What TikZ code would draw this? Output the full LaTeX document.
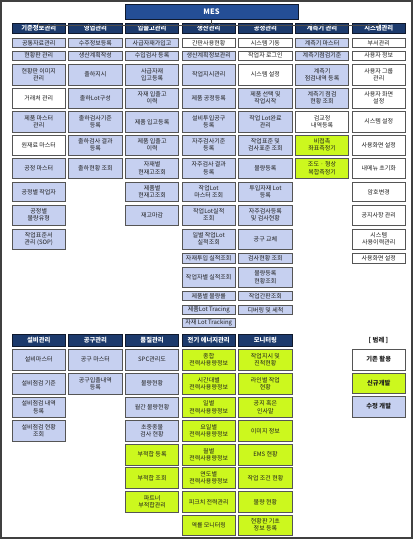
\documentclass[tikz,border=0pt]{standalone}
\usepackage{fontspec}
\newfontfamily\kr{Noto Sans CJK KR}
\definecolor{hdr}{RGB}{28,58,108}
\definecolor{hdrline}{RGB}{15,25,45}
\definecolor{mesfill}{RGB}{36,78,150}
\definecolor{cblue}{RGB}{198,208,240}
\definecolor{cgreen}{RGB}{204,248,30}
\definecolor{cellline}{RGB}{85,85,85}
\definecolor{txt}{RGB}{30,30,30}
\newcommand\mycell[6]{\node[#5, minimum height={(#4-#3)*1pt}] (#1) at ({#2+26.75},{(#3+#4)/2}) {#6};}
\begin{document}
\begin{tikzpicture}[x=1pt,y=-1pt,
 cell/.style={draw=cellline, line width=0.9pt, minimum width=53.5pt, inner sep=0pt, align=center, font=\kr\fontsize{6}{7.2}\selectfont, text=txt},
 bluec/.style={cell, fill=cblue},
 whitec/.style={cell, fill=white},
 greenc/.style={cell, fill=cgreen},
 hdrc/.style={cell, fill=hdr, draw=hdrline, line width=1pt, text=white, font=\kr\bfseries\fontsize{6.3}{7}\selectfont},
 legc/.style={font=\kr\bfseries\fontsize{6.3}{7}\selectfont},
 conn/.style={draw=black!70, line width=0.6pt},
]
\useasboundingbox (0,0) rectangle (413,539);
\draw[line width=1.2pt, draw=black!75] (1,1) rectangle (412,538);

% MES
\node[hdrc, fill=mesfill, minimum width=173pt, minimum height=15pt, font=\kr\bfseries\fontsize{7.5}{8}\selectfont] (mes) at (211.5,11.5) {MES};

% headers top
\mycell{h1}{12}{23}{33.5}{hdrc}{기준정보관리}
\mycell{h2}{68.7}{23}{33.5}{hdrc}{영업관리}
\mycell{h3}{125.3}{23}{33.5}{hdrc}{입출고관리}
\mycell{h4}{182}{23}{33.5}{hdrc}{생산관리}
\mycell{h5}{238.7}{23}{33.5}{hdrc}{공정관리}
\mycell{h6}{295.3}{23}{33.5}{hdrc}{계측기 관리}
\mycell{h7}{352}{23}{33.5}{hdrc}{시스템관리}

\coordinate (busL) at ([yshift=-2.5pt]h1.north);
\coordinate (busR) at ([yshift=-2.5pt]h7.north);
\draw[conn] (h1.north) -- (busL) -- (busR) -- (h7.north);
\draw[conn] (mes.south) -- (mes.south |- busL);

% column 1
\mycell{a1}{12}{38.5}{47.5}{bluec}{공통자료관리}
\mycell{a2}{12}{51}{60}{bluec}{현황판 관리}
\mycell{a3}{12}{64}{85}{bluec}{현황판 이미지\\관리}
\mycell{a4}{12}{88}{108}{whitec}{거래처 관리}
\mycell{a5}{12}{111.5}{132}{bluec}{제품 마스터\\관리}
\mycell{a6}{12}{135}{155}{whitec}{원재료 마스터}
\mycell{a7}{12}{158.5}{178}{bluec}{공정 마스터}
\mycell{a8}{12}{182}{201.5}{bluec}{공정별 작업자}
\mycell{a9}{12}{205}{225}{bluec}{공정별\\불량유형}
\mycell{a10}{12}{229}{249}{bluec}{작업표준서\\관리 (SOP)}

% column 2
\mycell{b1}{68.7}{38.5}{47.5}{bluec}{수주정보등록}
\mycell{b2}{68.7}{51}{60}{bluec}{생산계획작성}
\mycell{b3}{68.7}{64}{85}{bluec}{출하지시}
\mycell{b4}{68.7}{88}{108}{bluec}{출하Lot구성}
\mycell{b5}{68.7}{111.5}{132}{bluec}{출하검사기준\\등록}
\mycell{b6}{68.7}{135}{155}{bluec}{출하검사 결과\\등록}
\mycell{b7}{68.7}{158.5}{178}{bluec}{출하현황 조회}

% column 3
\mycell{c1}{125.3}{38.5}{47.5}{bluec}{사급자재가입고}
\mycell{c2}{125.3}{51}{60}{bluec}{수입검사 등록}
\mycell{c3}{125.3}{64}{85}{bluec}{사급자재\\입고등록}
\mycell{c4}{125.3}{88}{108}{bluec}{자재 입출고\\이력}
\mycell{c5}{125.3}{111.5}{132}{bluec}{제품 입고등록}
\mycell{c6}{125.3}{135}{155}{bluec}{제품 입출고\\이력}
\mycell{c7}{125.3}{158.5}{178}{bluec}{자재별\\현재고조회}
\mycell{c8}{125.3}{182}{201.5}{bluec}{제품별\\현재고조회}
\mycell{c9}{125.3}{205}{225}{bluec}{재고마감}

% column 4
\mycell{d1}{182}{38.5}{47.5}{whitec}{간판사용현황}
\mycell{d2}{182}{51}{60}{bluec}{생산계획정보관리}
\mycell{d3}{182}{64}{85}{bluec}{작업지시관리}
\mycell{d4}{182}{88}{108}{bluec}{제품 공정등록}
\mycell{d5}{182}{111.5}{132}{bluec}{설비투입공구\\등록}
\mycell{d6}{182}{135}{155}{bluec}{자주검사기준\\등록}
\mycell{d7}{182}{158.5}{178}{bluec}{자주검사 결과\\등록}
\mycell{d8}{182}{182}{201.5}{bluec}{작업Lot\\마스터 조회}
\mycell{d9}{182}{205}{225}{bluec}{작업Lot실적\\조회}
\mycell{d10}{182}{229}{249}{bluec}{일별 작업Lot\\실적조회}
\mycell{d11}{182}{253}{263}{bluec}{자재투입 실적조회}
\mycell{d12}{182}{267.5}{287}{bluec}{작업자별 실적조회}
\mycell{d13}{182}{291.5}{300.5}{bluec}{제품별 불량률}
\mycell{d14}{182}{305}{314.5}{bluec}{제품Lot Tracing}
\mycell{d15}{182}{318.5}{327.5}{bluec}{자재 Lot Tracking}

% column 5
\mycell{e1}{238.7}{38.5}{47.5}{whitec}{시스템 기동}
\mycell{e2}{238.7}{51}{60}{whitec}{작업자 로그인}
\mycell{e3}{238.7}{64}{85}{whitec}{시스템 설정}
\mycell{e4}{238.7}{88}{108}{bluec}{제품 선택 및\\작업시작}
\mycell{e5}{238.7}{111.5}{132}{bluec}{작업 Lot완료\\관리}
\mycell{e6}{238.7}{135}{155}{bluec}{작업표준 및\\검사표준 조회}
\mycell{e7}{238.7}{158.5}{178}{bluec}{불량등록}
\mycell{e8}{238.7}{182}{201.5}{bluec}{투입자재 Lot\\등록}
\mycell{e9}{238.7}{205}{225}{bluec}{자주검사등록\\및 검사현황}
\mycell{e10}{238.7}{229}{249}{bluec}{공구 교체}
\mycell{e11}{238.7}{253}{263}{bluec}{검사현황 조회}
\mycell{e12}{238.7}{267.5}{287}{bluec}{불량등록\\현황조회}
\mycell{e13}{238.7}{291.5}{300.5}{bluec}{작업간판조회}
\mycell{e14}{238.7}{305}{314.5}{bluec}{디버링 및 세척}

% column 6
\mycell{f1}{295.3}{38.5}{47.5}{bluec}{계측기 마스터}
\mycell{f2}{295.3}{51}{60}{bluec}{계측기점검기준}
\mycell{f3}{295.3}{64}{85}{bluec}{계측기\\점검내역 등록}
\mycell{f4}{295.3}{88}{108}{bluec}{계측기 점검\\현황 조회}
\mycell{f5}{295.3}{111.5}{132}{whitec}{검교정\\내역등록}
\mycell{f6}{295.3}{135}{155}{greenc}{비접촉\\좌표측정기}
\mycell{f7}{295.3}{158.5}{178}{greenc}{조도 · 형상\\복합측정기}

% column 7
\mycell{g1}{352}{38.5}{47.5}{whitec}{부서관리}
\mycell{g2}{352}{51}{60}{whitec}{사용자 정보}
\mycell{g3}{352}{64}{85}{whitec}{사용자 그룹\\관리}
\mycell{g4}{352}{88}{108}{whitec}{사용자 화면\\설정}
\mycell{g5}{352}{111.5}{132}{whitec}{시스템 설정}
\mycell{g6}{352}{135}{155}{whitec}{사용화면 설정}
\mycell{g7}{352}{158.5}{178}{whitec}{내메뉴 초기화}
\mycell{g8}{352}{182}{201.5}{whitec}{암호변경}
\mycell{g9}{352}{205}{225}{whitec}{공지사항 관리}
\mycell{g10}{352}{229}{249}{whitec}{시스템\\사용이력관리}
\mycell{g11}{352}{253}{263}{whitec}{사용화면 설정}

% bottom headers
\mycell{k1}{12}{334}{346}{hdrc}{설비관리}
\mycell{k2}{68.7}{334}{346}{hdrc}{공구관리}
\mycell{k3}{125.3}{334}{346}{hdrc}{품질관리}
\mycell{k4}{182}{334}{346}{hdrc}{전기 에너지관리}
\mycell{k5}{238.7}{334}{346}{hdrc}{모니터링}

% bottom col 1
\mycell{p1}{12}{349}{370.5}{bluec}{설비마스터}
\mycell{p2}{12}{373}{394}{bluec}{설비점검 기준}
\mycell{p3}{12}{397}{417.5}{bluec}{설비점검 내역\\등록}
\mycell{p4}{12}{420.5}{441}{bluec}{설비점검 현황\\조회}

% bottom col 2
\mycell{q1}{68.7}{349}{370.5}{bluec}{공구 마스터}
\mycell{q2}{68.7}{373}{394}{bluec}{공구입출내역\\등록}

% bottom col 3
\mycell{r1}{125.3}{349}{370.5}{bluec}{SPC관리도}
\mycell{r2}{125.3}{373}{394}{bluec}{불량현황}
\mycell{r3}{125.3}{397}{417.5}{bluec}{월간 불량현황}
\mycell{r4}{125.3}{420.5}{441}{bluec}{초중종물\\검사 현황}
\mycell{r5}{125.3}{444}{465}{greenc}{부적합 등록}
\mycell{r6}{125.3}{467.5}{488}{greenc}{부적합 조회}
\mycell{r7}{125.3}{491.5}{512}{greenc}{파트너\\부적합관리}

% bottom col 4
\mycell{s1}{182}{349}{370.5}{greenc}{종합\\전력사용량정보}
\mycell{s2}{182}{373}{394}{greenc}{시간대별\\전력사용량정보}
\mycell{s3}{182}{397}{417.5}{greenc}{일별\\전력사용량정보}
\mycell{s4}{182}{420.5}{441}{greenc}{요일별\\전력사용량정보}
\mycell{s5}{182}{444}{465}{greenc}{월별\\전력사용량정보}
\mycell{s6}{182}{467.5}{488}{greenc}{연도별\\전력사용량정보}
\mycell{s7}{182}{491.5}{512}{greenc}{피크치 전력관리}
\mycell{s8}{182}{515}{535}{greenc}{역률 모니터링}

% bottom col 5
\mycell{t1}{238.7}{349}{370.5}{greenc}{작업지시 및\\진척현황}
\mycell{t2}{238.7}{373}{394}{greenc}{라인별 작업\\현황}
\mycell{t3}{238.7}{397}{417.5}{greenc}{공지 혹은\\인사말}
\mycell{t4}{238.7}{420.5}{441}{greenc}{이미지 정보}
\mycell{t5}{238.7}{444}{465}{greenc}{EMS 현황}
\mycell{t6}{238.7}{467.5}{488}{greenc}{작업 조건 현황}
\mycell{t7}{238.7}{491.5}{512}{greenc}{불량 현황}
\mycell{t8}{238.7}{515}{535}{greenc}{현황판 기초\\정보 등록}

% legend
\node[legc, text=txt] (lg) at (378.5,340) {[ 범례 ]};
\mycell{l1}{352}{349}{370}{whitec, legc}{기존 활용}
\mycell{l2}{352}{373}{393}{greenc, legc}{신규개발}
\mycell{l3}{352}{396}{417}{bluec, legc}{수정 개발}
\end{tikzpicture}
\end{document}
